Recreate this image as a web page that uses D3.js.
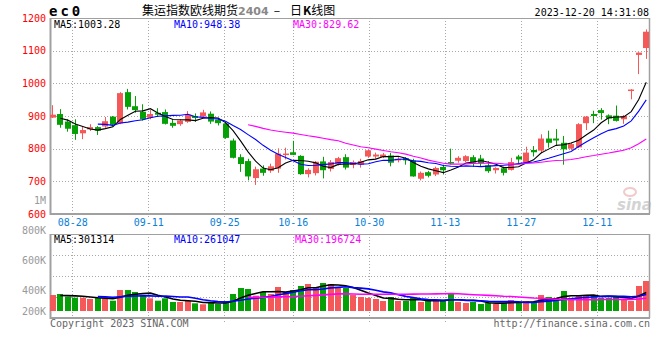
<!DOCTYPE html>
<html>
<head>
<meta charset="utf-8">
<script src="https://cdn.jsdelivr.net/npm/d3@7"></script>
<style>
  body { margin: 0; background: #fff; }
  text { font-family: "DejaVu Sans Mono", monospace; }
</style>
</head>
<body>
<div id="wrapper"></div>
<script>
// trading days shown in the window
const dates = [
  "2023-08-23","2023-08-24","2023-08-25","2023-08-28","2023-08-29","2023-08-30","2023-08-31",
  "2023-09-01","2023-09-04","2023-09-05","2023-09-06","2023-09-07","2023-09-08","2023-09-11",
  "2023-09-12","2023-09-13","2023-09-14","2023-09-15","2023-09-18","2023-09-19","2023-09-20",
  "2023-09-21","2023-09-22","2023-09-25","2023-09-26","2023-09-27","2023-09-28",
  "2023-10-09","2023-10-10","2023-10-11","2023-10-12","2023-10-13","2023-10-16","2023-10-17",
  "2023-10-18","2023-10-19","2023-10-20","2023-10-23","2023-10-24","2023-10-25","2023-10-26",
  "2023-10-27","2023-10-30","2023-10-31",
  "2023-11-01","2023-11-02","2023-11-03","2023-11-06","2023-11-07","2023-11-08","2023-11-09",
  "2023-11-10","2023-11-13","2023-11-14","2023-11-15","2023-11-16","2023-11-17","2023-11-20",
  "2023-11-21","2023-11-22","2023-11-23","2023-11-24","2023-11-27","2023-11-28","2023-11-29",
  "2023-11-30",
  "2023-12-01","2023-12-04","2023-12-05","2023-12-06","2023-12-07","2023-12-08","2023-12-11",
  "2023-12-12","2023-12-13","2023-12-14","2023-12-15","2023-12-18","2023-12-19","2023-12-20"
];
const opens = [895,906,883,872,847,859,866,868,898,877,973,930,913,895,910,912,879,875,882,900,
  898,907,889,877,825,774,762,710,739,732,739,782,789,778,722,725,761,738,752,774,
  750,751,776,776,774,779,764,771,764,708,728,721,744,759,763,762,774,770,749,734,
  740,735,776,758,796,794,831,831,818,800,804,878,906,918,902,901,890,979,1087,1108];
const highs = [933,921,890,890,869,875,869,897,900,973,983,961,936,918,924,920,890,890,915,908,
  919,914,895,882,831,783,769,745,749,754,801,803,824,780,740,762,775,765,775,783,
  764,769,797,788,787,787,774,774,769,730,732,745,751,800,777,780,780,781,762,743,
  745,772,781,806,808,844,855,860,839,818,878,900,916,924,905,932,903,982,1095,1165];
const lows = [894,864,852,827,829,854,842,864,867,875,920,910,886,890,897,874,864,870,879,882,
  897,876,871,830,770,729,703,689,717,726,726,767,780,720,712,718,709,730,748,736,
  740,742,772,769,771,746,758,751,714,703,712,716,721,752,757,759,744,746,726,724,
  718,733,755,753,776,786,803,808,751,796,802,857,878,889,875,883,876,951,1028,1075];
const closes = [904,873,861,845,857,866,855,884,873,970,928,918,890,906,904,876,870,886,904,894,
  911,883,878,833,772,753,715,737,726,746,785,785,781,722,735,760,734,759,771,742,
  759,762,795,782,782,757,769,764,715,726,717,741,734,757,772,777,757,755,731,741,
  726,759,767,788,789,831,818,825,798,814,875,898,900,909,892,885,900,981,1094,1158];
const volumes = [262000,279000,235000,218000,218000,197000,218000,208000,169000,344000,
  344000,312000,257000,208000,169000,208000,148000,148000,164000,126000,
  110000,136000,115000,164000,279000,377000,361000,251000,312000,279000,
  394000,312000,344000,410000,443000,394000,459000,443000,394000,377000,
  262000,230000,213000,197000,164000,230000,164000,164000,213000,148000,
  164000,164000,164000,279000,148000,131000,148000,115000,136000,115000,
  131000,180000,131000,164000,148000,262000,230000,213000,328000,213000,
  262000,262000,246000,213000,213000,246000,197000,164000,410000,492000];
// sessions before the visible window (08-18, 08-21, 08-22), only feed the averages
const priorCloses = [890, 905, 894];
const priorVolumes = [250000, 240000, 246000];

const priceTicks = [1200, 1100, 1000, 900, 800, 700, 600];
const priceGrid = [1100, 1000, 900, 800, 700];
const dateTicks = ["2023-08-28","2023-09-11","2023-09-25","2023-10-16","2023-10-30","2023-11-13","2023-11-27","2023-12-11"];
const volTicks = [800000, 600000, 400000, 200000];
const volTickLabels = ["800K", "600K", "400K", "200K"];

const up = "#f55858", down = "#05a005";
const maColors = {5: "#000", 10: "#0000ff", 30: "#ff00ff"};

function movingAverage(prior, values, n) {
  const all = prior.concat(values);
  return values.map((v, i) => {
    const end = i + prior.length + 1;
    return end < n ? null : d3.mean(all.slice(end - n, end));
  });
}

const rows = dates.map((d, i) => ({
  date: d, open: opens[i], high: highs[i], low: lows[i], close: closes[i], volume: volumes[i]
}));

const main = {left: 50, right: 650, top: 18, bottom: 214};
const vol = {top: 234, bottom: 318, base: 311};

const svg = d3.select("#wrapper").append("svg")
  .attr("width", 660).attr("height", 360);

const xBand = d3.scaleBand().domain(dates).range([49, 650]);
const cx = d => xBand(d) + xBand.bandwidth() / 2;
// sina's date grid runs on a slightly wider step than the candles
const xGrid = d3.scalePoint().domain(dates).range([49.5, 49.5 + 7.6 * (dates.length - 1)]);
const yPrice = d3.scaleLinear().domain([600, 1200]).range([main.bottom, main.top]);
const yVol = d3.scaleLinear().domain([0, 1263000]).range([vol.base, vol.top]);
const volGridY = d3.scaleLinear().domain([0, 4]).range([vol.top, vol.bottom]);
const volLabelY = d3.scaleLinear().domain([800000, 400000]).range([230, 290]);

const crisp = v => Math.round(v) + 0.5;

// grids
const grid = svg.append("g").attr("stroke", "#a8a8a8").attr("stroke-dasharray", "1,2");
grid.selectAll(".hp").data(priceGrid).join("line")
  .attr("x1", main.left).attr("x2", main.right)
  .attr("y1", d => crisp(yPrice(d))).attr("y2", d => crisp(yPrice(d)));
grid.selectAll(".hv").data([1, 2, 3]).join("line")
  .attr("x1", main.left).attr("x2", main.right)
  .attr("y1", d => crisp(volGridY(d))).attr("y2", d => crisp(volGridY(d)));
grid.selectAll(".vm").data(dateTicks).join("line")
  .attr("x1", d => crisp(xGrid(d))).attr("x2", d => crisp(xGrid(d)))
  .attr("y1", main.top).attr("y2", main.bottom + 4);
grid.selectAll(".vv").data(dateTicks).join("line")
  .attr("x1", d => crisp(xGrid(d))).attr("x2", d => crisp(xGrid(d)))
  .attr("y1", vol.top).attr("y2", vol.bottom + 4);

// panel frames
function frame(top, bottom) {
  const g = svg.append("g").attr("stroke", "#a0a0a0").attr("fill", "none");
  g.append("line").attr("x1", main.left).attr("x2", main.right).attr("y1", top + 0.5).attr("y2", top + 0.5);
  g.append("line").attr("x1", main.right - 0.5).attr("x2", main.right - 0.5).attr("y1", top).attr("y2", bottom).attr("stroke-width", 1.5);
  g.append("line").attr("x1", main.left + 0.5).attr("x2", main.left + 0.5).attr("y1", top).attr("y2", bottom + 1).attr("stroke-width", 2);
  g.append("line").attr("x1", main.left).attr("x2", main.right).attr("y1", bottom).attr("y2", bottom).attr("stroke-width", 2);
}
frame(main.top, main.bottom);
frame(vol.top, vol.bottom);

// watermark
const wm = svg.append("g").attr("opacity", 0.55);
wm.append("ellipse").attr("cx", 630).attr("cy", 192).attr("rx", 6).attr("ry", 4)
  .attr("fill", "none").attr("stroke", "#e9a0a0").attr("stroke-width", 2);
wm.append("text").attr("x", 617).attr("y", 210).text("sina")
  .style("font-family", "DejaVu Sans").style("font-size", "15px")
  .style("font-weight", "bold").style("font-style", "italic").attr("fill", "#b0b0b0");

// candles
const candles = svg.append("g").selectAll("g").data(rows).join("g")
  .attr("fill", d => d.close >= d.open ? up : down)
  .attr("stroke", d => d.close >= d.open ? up : down);
candles.append("line")
  .attr("x1", d => crisp(cx(d.date) - 0.5)).attr("x2", d => crisp(cx(d.date) - 0.5))
  .attr("y1", d => yPrice(d.high)).attr("y2", d => yPrice(d.low));
candles.append("rect")
  .attr("stroke", "none")
  .attr("x", d => Math.round(cx(d.date) - 3)).attr("width", 6)
  .attr("y", d => yPrice(Math.max(d.open, d.close)))
  .attr("height", d => Math.max(1.5, Math.abs(yPrice(d.open) - yPrice(d.close))));

// volume bars
svg.append("g").selectAll("rect").data(rows).join("rect")
  .attr("x", d => Math.round(cx(d.date) - 3)).attr("width", 6)
  .attr("y", d => yVol(d.volume))
  .attr("height", d => vol.base - yVol(d.volume))
  .attr("fill", d => d.close >= d.open ? up : down);

// moving averages
[5, 10, 30].forEach(n => {
  const maP = movingAverage(priorCloses, closes, n);
  const maV = movingAverage(priorVolumes, volumes, n);
  const lineP = d3.line().defined(d => d[1] != null).x(d => cx(d[0])).y(d => yPrice(d[1]));
  const lineV = d3.line().defined(d => d[1] != null).x(d => cx(d[0])).y(d => yVol(d[1]));
  svg.append("path").datum(dates.map((d, i) => [d, maP[i]]))
    .attr("d", lineP).attr("fill", "none").attr("stroke", maColors[n]).attr("stroke-width", 1.1);
  svg.append("path").datum(dates.map((d, i) => [d, maV[i]]))
    .attr("d", lineV).attr("fill", "none").attr("stroke", maColors[n]).attr("stroke-width", 1.6);
});

// price axis
const yAxis = svg.append("g").attr("transform", `translate(${main.left},0)`)
  .call(d3.axisLeft(yPrice).tickValues(priceTicks).tickSize(0).tickPadding(4).tickFormat(d3.format("d")));
yAxis.select(".domain").remove();
yAxis.selectAll("text").attr("fill", "#f00").style("font-size", "10px")
  .style("font-family", "DejaVu Sans Mono");
svg.append("text").attr("x", 46).attr("y", 200).attr("dy", "0.35em").attr("text-anchor", "end")
  .attr("fill", "#999").style("font-size", "10px").text("1M");

// date axis
const xAxis = svg.append("g").attr("transform", `translate(0,${main.bottom})`)
  .call(d3.axisBottom(xGrid).tickValues(dateTicks).tickSize(0).tickPadding(5).tickFormat(d => d.slice(5)));
xAxis.select(".domain").remove();
xAxis.selectAll("text").attr("fill", "#0a80d8").style("font-size", "10px")
  .style("font-family", "DejaVu Sans Mono");

// volume labels
svg.append("g").selectAll("text").data(volTicks).join("text")
  .attr("x", 46).attr("y", d => Math.min(volLabelY(d), 311)).attr("dy", "0.35em")
  .attr("text-anchor", "end").attr("fill", "#999").style("font-size", "10px")
  .text((d, i) => volTickLabels[i]);

// header
svg.append("text").attr("x", 49).attr("y", 16).text("ec0")
  .style("font-size", "14px").style("font-weight", "bold").style("letter-spacing", "3px");
const title = svg.append("text").attr("x", 142).attr("y", 15)
  .style("font-family", "'Noto Sans CJK SC', sans-serif").style("font-size", "12px");
title.append("tspan").text("集运指数欧线期货");
title.append("tspan").text("2404").attr("fill", "#888").style("font-weight", "bold")
  .style("font-family", "'DejaVu Sans', sans-serif").style("font-size", "11px");
title.append("tspan").text("–").attr("dx", 5);
title.append("tspan").text("日").attr("dx", 10);
title.append("tspan").text("K").style("font-weight", "bold").attr("dx", 1);
title.append("tspan").text("线图");
svg.append("text").attr("x", 649).attr("y", 16).attr("text-anchor", "end")
  .style("font-size", "10px").text("2023-12-20 14:31:08");

// legends
const legendMain = [["MA5:1003.28", 54, "#000"], ["MA10:948.38", 174, "#0000ff"], ["MA30:829.62", 293, "#ff00ff"]];
const legendVol = [["MA5:301314", 54, "#000"], ["MA10:261047", 174, "#0000ff"], ["MA30:196724", 295, "#ff00ff"]];
svg.append("g").selectAll("text").data(legendMain).join("text")
  .attr("x", d => d[1]).attr("y", 28).attr("fill", d => d[2]).style("font-size", "10px").text(d => d[0]);
svg.append("g").selectAll("text").data(legendVol).join("text")
  .attr("x", d => d[1]).attr("y", 243).attr("fill", d => d[2]).style("font-size", "10px").text(d => d[0]);

// footer
svg.append("text").attr("x", 50).attr("y", 327).attr("fill", "#666")
  .style("font-size", "10px").text("Copyright 2023 SINA.COM");
svg.append("text").attr("x", 650).attr("y", 327).attr("text-anchor", "end").attr("fill", "#666")
  .style("font-size", "10px").text("http://finance.sina.com.cn");
</script>
</body>
</html>
